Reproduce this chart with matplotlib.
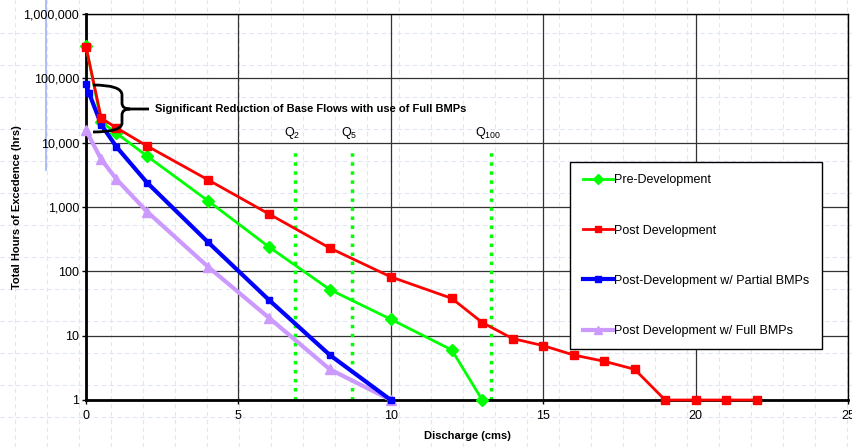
import matplotlib.pyplot as plt
from matplotlib.lines import Line2D
from matplotlib.path import Path
from matplotlib.patches import PathPatch
from matplotlib.ticker import FixedLocator, FuncFormatter, NullLocator

plt.rcParams['font.family'] = ['Liberation Sans', 'DejaVu Sans']
plt.rcParams['mathtext.fontset'] = 'custom'
plt.rcParams['mathtext.rm'] = 'Liberation Sans'

# values
pre_x = [0, 0.5, 1, 2, 4, 6, 8, 10, 12, 13]
pre_y = [320000, 21000, 14000, 6200, 1250, 240, 52, 18, 6, 1]

post_x = [0, 0.5, 1, 2, 4, 6, 8, 10, 12, 13, 14, 15, 16, 17, 18, 19, 20, 21, 22]
post_y = [310000, 24000, 17000, 8900, 2650, 780, 230, 82, 38, 16, 9, 7, 5, 4, 3, 1, 1, 1, 1]

partial_x = [0, 0.1, 0.5, 1, 2, 4, 6, 8, 10]
partial_y = [82000, 59000, 19000, 8600, 2400, 285, 36, 5, 1]

full_x = [0, 0.5, 1, 2, 4, 6, 8, 10]
full_y = [15500, 5500, 2700, 850, 118, 19, 3, 1]

q_x = [6.85, 8.72, 13.28]
q_labels = [r'Q$_{\mathregular{2}}$', r'Q$_{\mathregular{5}}$', r'Q$_{\mathregular{100}}$']
q_top = 8300

x_ticks = [0, 5, 10, 15, 20, 25]
y_ticks = [1, 10, 100, 1000, 10000, 100000, 1000000]

W, H = 853, 447
fig = plt.figure(figsize=(W / 100, H / 100), dpi=100)

# faint page grid of the spreadsheet behind the chart
for k in range(1, 14):
    y = 1 - (1 + 32 * k) / H
    fig.add_artist(Line2D([0, 1], [y, y], transform=fig.transFigure, color='#dfe6f7',
                          lw=0.8, ls=(0, (4, 3)), zorder=-2))
for k in range(0, 27):
    x = (15 + 32 * k) / W
    fig.add_artist(Line2D([x, x], [0, 1], transform=fig.transFigure, color='#dfe6f7',
                          lw=0.8, ls=(0, (4, 3)), zorder=-2))
fig.add_artist(Line2D([46.5 / W, 46.5 / W], [1, 1 - 170 / H], transform=fig.transFigure,
                      color='#9fb2f2', lw=1.2, zorder=-1))

ax = fig.add_axes([86 / W, 47 / H, 762 / W, 386 / H])
ax.set_facecolor('none')
ax.set_yscale('log')
ax.set_xlim(0, 25)
ax.set_ylim(1, 1000000)

ax.xaxis.set_major_locator(FixedLocator(x_ticks))
ax.yaxis.set_major_locator(FixedLocator(y_ticks))
ax.yaxis.set_minor_locator(NullLocator())
ax.yaxis.set_major_formatter(FuncFormatter(lambda v, p: f'{int(round(v)):,}'))
ax.tick_params(labelsize=9, length=3, width=1, colors='black', pad=2)
ax.tick_params(axis='x', pad=4)
ax.grid(True, which='major', color='#333333', lw=0.9)
ax.set_axisbelow(True)
for side in ['left', 'bottom']:
    ax.spines[side].set_linewidth(2)
for side in ['top', 'right']:
    ax.spines[side].set_linewidth(1)

ax.plot(pre_x, pre_y, color='#00ff00', lw=2, marker='D', ms=6, label='Pre-Development',
        zorder=4, clip_on=False)
ax.plot(post_x, post_y, color='#ff0000', lw=2, marker='s', ms=6, label='Post Development',
        zorder=5, clip_on=False)
ax.plot(partial_x, partial_y, color='#0000ff', lw=3, marker='s', ms=5,
        label='Post-Development w/ Partial BMPs', zorder=4, clip_on=False)
ax.plot(full_x, full_y, color='#cc99ff', lw=3, marker='^', ms=7,
        label='Post Development w/ Full BMPs', zorder=3, clip_on=False)

for qx, ql in zip(q_x, q_labels):
    ax.plot([qx, qx], [1, q_top], color='#00ff00', lw=2.5, ls=(0, (1, 1.6)), zorder=2)
    ax.text(qx - 0.1, q_top * 1.3, ql, ha='center', va='bottom', fontsize=9)

# curly brace marking the base flow reduction (axes fraction coords)
def fx(px):
    return (px - 86) / 762


def fy(py):
    return (400 - py) / 386


verts = [(fx(93), fy(85)), (fx(122), fy(85)), (fx(122), fy(95)),
         (fx(122), fy(103)), (fx(122), fy(109)), (fx(130), fy(109)),
         (fx(149), fy(109)),
         (fx(130), fy(109)), (fx(122), fy(109)), (fx(122), fy(115)),
         (fx(122), fy(123)), (fx(122), fy(132)), (fx(93), fy(132))]
codes = [Path.MOVETO, Path.CURVE3, Path.CURVE3,
         Path.LINETO, Path.CURVE3, Path.CURVE3,
         Path.LINETO,
         Path.MOVETO, Path.CURVE3, Path.CURVE3,
         Path.LINETO, Path.CURVE3, Path.CURVE3]
ax.add_patch(PathPatch(Path(verts, codes), transform=ax.transAxes, fill=False,
                       edgecolor='black', lw=2, zorder=6, clip_on=False))
ax.text(fx(155), fy(109), 'Significant Reduction of Base Flows with use of Full BMPs',
        transform=ax.transAxes, fontsize=8, fontweight='bold', va='center', ha='left')

ax.set_xlabel('Discharge (cms)', fontsize=8, fontweight='bold', labelpad=7)
ax.set_ylabel('Total Hours of Excedence (hrs)', fontsize=8, fontweight='bold', labelpad=1)

leg = ax.legend(loc='upper left', bbox_to_anchor=(fx(570), fy(162)), fontsize=9,
                frameon=True, fancybox=False, edgecolor='black', framealpha=1,
                handlelength=2.4, handletextpad=0.15, labelspacing=3.05,
                borderpad=1.0, borderaxespad=0, markerscale=0.8)
leg.get_frame().set_linewidth(1)

fig.savefig('out.png', dpi=100)
